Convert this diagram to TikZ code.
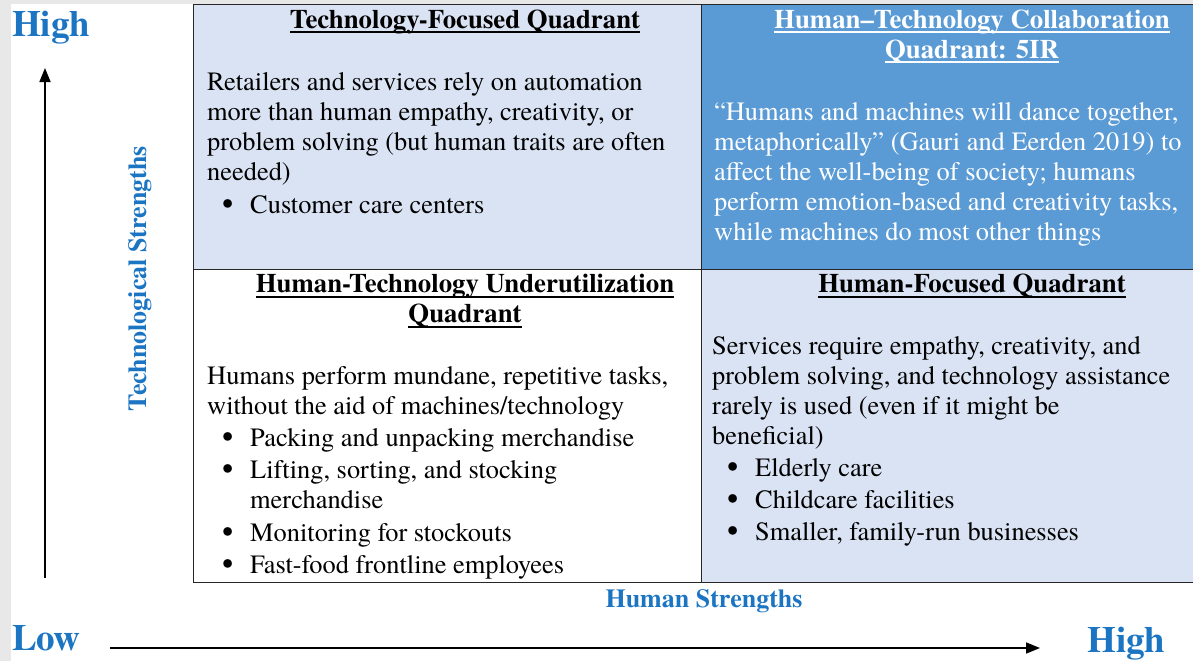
\documentclass[tikz,border=0pt]{standalone}
\usepackage{fontspec}
\IfFontExistsTF{texgyretermes-regular.otf}
  {\setmainfont{texgyretermes}[Extension=.otf, UprightFont=*-regular, BoldFont=*-bold, ItalicFont=*-italic, BoldItalicFont=*-bolditalic]}
  {\setmainfont{Liberation Serif}}
\usepackage{tikz}
\usetikzlibrary{arrows.meta, positioning, calc}

\definecolor{lightq}{HTML}{DAE3F3}
\definecolor{darkq}{HTML}{5B9BD5}
\definecolor{axblue}{HTML}{1B75C2}

\newcommand\hdul[1]{\leavevmode\setbox0\hbox{#1}\rlap{\rule[-5pt]{\wd0}{1.8pt}}\box0}
\newcommand\itm{\makebox[43pt][l]{\hspace{15pt}\smash{\raisebox{-1pt}{\fontsize{32}{30}\selectfont\textbullet}}}}
\newcommand\itmx{\makebox[43pt]{}}

\begin{document}
\begin{tikzpicture}[
    x=1pt, y=-1pt,
    quad/.style={draw=black!85, line width=1.3pt, inner sep=0, anchor=north west},
    hd/.style={anchor=north, align=center, inner sep=0, font=\bfseries\fontsize{26.8}{30}\selectfont},
    bd/.style={anchor=north west, align=left, inner sep=0, font=\fontsize{26.4}{30}\selectfont},
    axlab/.style={text=axblue, inner sep=0, font=\bfseries\fontsize{26}{30}\selectfont},
    ends/.style={text=axblue, inner sep=0, anchor=base west, font=\bfseries\fontsize{37}{40}\selectfont},
    >={Triangle[length=14pt, width=11pt]}
]
\useasboundingbox (0,0) rectangle (1193,661);
\fill[gray!18] (0,0) rectangle (11,661);
\fill[gray!18] (0,0) rectangle (1193,4);

\node (tq) at (193,4)     [quad, fill=lightq, minimum width=508pt, minimum height=264.5pt] {};
\node (cq) at (701,4)     [quad, fill=darkq, minimum width=512pt, minimum height=264.5pt] {};
\node (uq) at (193,268.5) [quad, fill=white, minimum width=508pt, minimum height=313.5pt] {};
\node (hq) at (701,268.5) [quad, fill=lightq, minimum width=512pt, minimum height=313.5pt] {};

\node (thead) at (465,7)     [hd] {\strut\hdul{Technology-Focused Quadrant}};
\node (tbody) at (207,69)    [bd] {\strut Retailers and services rely on automation\\
    more than human empathy, creativity, or\\
    problem solving (but human traits are often\\
    needed)\\[3pt]
    \itm Customer care centers};

\node (chead) at (972,7)     [hd, text=white] {\strut\hdul{Human–Technology Collaboration}\\ \hdul{Quadrant: 5IR}};
\node (cbody) at (714,99)    [bd, text=white] {\strut “Humans and machines will dance together,\\
    metaphorically” (Gauri and Eerden 2019) to\\
    affect the well-being of society; humans\\
    perform emotion-based and creativity tasks,\\
    while machines do most other things};

\node (uhead) at (465,271.5) [hd] {\strut\hdul{Human-Technology Underutilization}\\ \hdul{Quadrant}};
\node (ubody) at (207,363.5) [bd] {\strut Humans perform mundane, repetitive tasks,\\
    without the aid of machines/technology\\[2pt]
    \itm Packing and unpacking merchandise\\[2pt]
    \itm Lifting, sorting, and stocking\\
    \itmx merchandise\\[3pt]
    \itm Monitoring for stockouts\\[2pt]
    \itm Fast-food frontline employees};

\node (hhead) at (972,271.5) [hd] {\strut\hdul{Human-Focused Quadrant}};
\node (hbody) at (712,333.5) [bd] {\strut Services require empathy, creativity, and\\
    problem solving, and technology assistance\\
    rarely is used (even if it might be\\
    beneficial)\\[2pt]
    \itm Elderly care\\[2pt]
    \itm Childcare facilities\\[2pt]
    \itm Smaller, family-run businesses};

\node (yhi)  at (12,37)    [ends] {High};
\node (xlo)  at (12,650)   [ends] {Low};
\node (xhi)  at (1087,652) [ends] {High};
\node (ylab) at (146,278.5) [axlab, anchor=base, rotate=90] {Technological Strengths};
\node (xlab) at (704,607)  [axlab, anchor=base] {Human Strengths};

\coordinate (vbot) at (45,578);
\coordinate (vtop) at (45,68);
\coordinate (hleft) at (110,648);
\coordinate (hright) at (1040,648);

\draw[->, line width=1.6pt] (vbot) -- (vtop);
\draw[->, line width=1.6pt] (hleft) -- (hright);
\end{tikzpicture}
\end{document}
